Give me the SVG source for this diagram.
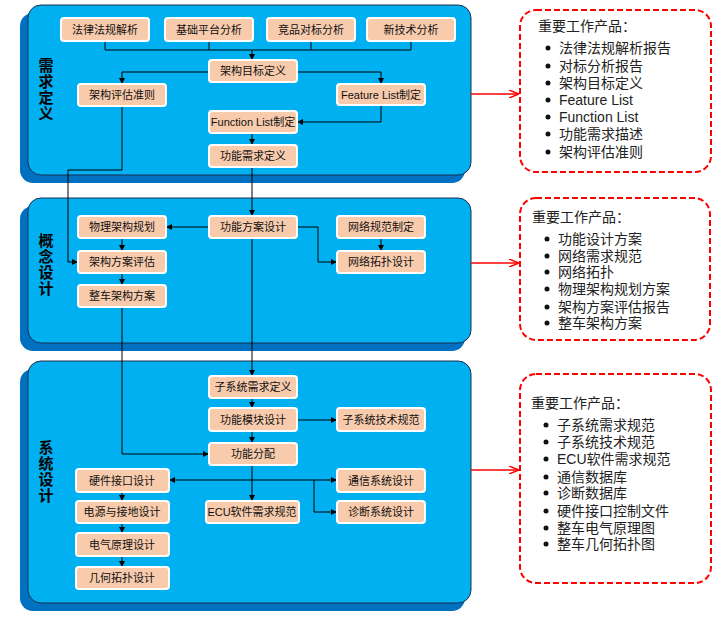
<svg xmlns="http://www.w3.org/2000/svg" width="726" height="617" viewBox="0 0 726 617">
<style>
.shadow{fill:#0070C0}
.panel{fill:#00B0F0;stroke:#1F3050;stroke-width:1}
.node rect{fill:#F8CBAD;stroke:#FFFFFF;stroke-width:2}
.node text{font-family:"Liberation Sans","Noto Sans CJK SC",sans-serif;font-size:11px;fill:#111;text-anchor:middle}
.stage{font-family:"Noto Sans CJK SC",sans-serif;font-size:15px;font-weight:bold;fill:#000;writing-mode:vertical-rl;letter-spacing:1px}
.conn{fill:none;stroke:#000;stroke-width:1}
.out{fill:#FFFFFF;stroke:#FF0000;stroke-width:2;stroke-dasharray:6,3}
.outt{font-family:"Liberation Sans","Noto Sans CJK SC",sans-serif;font-size:14px;fill:#222}
.red{fill:none;stroke:#FF0000;stroke-width:1.3}
</style>
<defs>
<marker id="ar" viewBox="0 0 6 6" refX="6" refY="3" markerWidth="6" markerHeight="6" orient="auto" markerUnits="userSpaceOnUse"><path d="M0,0 L6,3 L0,6 z" fill="#000"/></marker>
<marker id="rar" viewBox="0 0 10 8" refX="10" refY="4" markerWidth="10" markerHeight="8" orient="auto" markerUnits="userSpaceOnUse"><path d="M0,0 L10,4 L0,8" fill="none" stroke="#FF0000" stroke-width="1.5"/></marker>
</defs>

<g id="stage1">
<rect class="shadow" x="20" y="13" width="445" height="170" rx="13"/>
<rect class="panel" x="28" y="5" width="443" height="170" rx="13"/>
<text class="stage" x="46" y="58">需求定义</text>
</g>
<g id="stage2">
<rect class="shadow" x="20" y="206" width="445" height="145" rx="13"/>
<rect class="panel" x="28" y="198" width="443" height="145" rx="13"/>
<text class="stage" x="46" y="233">概念设计</text>
</g>
<g id="stage3">
<rect class="shadow" x="20" y="369" width="445" height="242" rx="13"/>
<rect class="panel" x="28" y="361" width="443" height="242" rx="13"/>
<text class="stage" x="46" y="440">系统设计</text>
</g>

<g id="connectors">
<path class="conn" d="M105,41 V50 H411 V41 M209,41 V50 M311,41 V50"/>
<path class="conn" marker-end="url(#ar)" d="M252,50 V60"/>
<path class="conn" marker-end="url(#ar)" d="M209,72 H122 V84"/>
<path class="conn" marker-end="url(#ar)" d="M297,72 H381 V84"/>
<path class="conn" marker-end="url(#ar)" d="M381,105 V122 H297"/>
<path class="conn" marker-end="url(#ar)" d="M252,133 V145"/>
<path class="conn" marker-end="url(#ar)" d="M252,167 V216"/>
<path class="conn" marker-end="url(#ar)" d="M122,106 V170 H68 V262 H78"/>
<path class="conn" marker-end="url(#ar)" d="M209,227 H166"/>
<path class="conn" marker-end="url(#ar)" d="M297,227 H318 V262 H337"/>
<path class="conn" marker-end="url(#ar)" d="M381,238 V251"/>
<path class="conn" marker-end="url(#ar)" d="M122,238 V251"/>
<path class="conn" marker-end="url(#ar)" d="M122,273 V285"/>
<path class="conn" marker-end="url(#ar)" d="M122,307 V454 H209"/>
<path class="conn" marker-end="url(#ar)" d="M252,238 V376"/>
<path class="conn" marker-end="url(#ar)" d="M252,398 V408"/>
<path class="conn" marker-end="url(#ar)" d="M297,420 H337"/>
<path class="conn" marker-end="url(#ar)" d="M252,431 V443"/>
<path class="conn" marker-end="url(#ar)" d="M252,465 V501"/>
<path class="conn" marker-end="url(#ar)" d="M314,480 H169"/>
<path class="conn" marker-end="url(#ar)" d="M314,480 H337"/>
<path class="conn" marker-end="url(#ar)" d="M314,480 V512 H337"/>
<path class="conn" marker-end="url(#ar)" d="M122,492 V501"/>
<path class="conn" marker-end="url(#ar)" d="M122,523 V533"/>
<path class="conn" marker-end="url(#ar)" d="M122,556 V567"/>
<path class="red" marker-end="url(#rar)" d="M471,94 H519"/>
<path class="red" marker-end="url(#rar)" d="M471,263 H519"/>
<path class="red" marker-end="url(#rar)" d="M471,470 H519"/>
</g>

<g id="n1" class="node"><rect x="61" y="18" width="88" height="23" rx="3"/><text x="105" y="34">法律法规解析</text></g>
<g id="n2" class="node"><rect x="165" y="18" width="88" height="23" rx="3"/><text x="209" y="34">基础平台分析</text></g>
<g id="n3" class="node"><rect x="267" y="18" width="88" height="23" rx="3"/><text x="311" y="34">竞品对标分析</text></g>
<g id="n4" class="node"><rect x="367" y="18" width="88" height="23" rx="3"/><text x="411" y="34">新技术分析</text></g>
<g id="n5" class="node"><rect x="209" y="60" width="88" height="22" rx="3"/><text x="253" y="75">架构目标定义</text></g>
<g id="n6" class="node"><rect x="78" y="84" width="88" height="22" rx="3"/><text x="122" y="99">架构评估准则</text></g>
<g id="n7" class="node"><rect x="337" y="84" width="88" height="21" rx="3"/><text x="381" y="99">Feature List制定</text></g>
<g id="n8" class="node"><rect x="209" y="111" width="88" height="22" rx="3"/><text x="253" y="126">Function List制定</text></g>
<g id="n9" class="node"><rect x="209" y="145" width="88" height="22" rx="3"/><text x="253" y="160">功能需求定义</text></g>

<g id="n10" class="node"><rect x="78" y="216" width="88" height="22" rx="3"/><text x="122" y="231">物理架构规划</text></g>
<g id="n11" class="node"><rect x="209" y="216" width="88" height="22" rx="3"/><text x="253" y="231">功能方案设计</text></g>
<g id="n12" class="node"><rect x="337" y="216" width="88" height="22" rx="3"/><text x="381" y="231">网络规范制定</text></g>
<g id="n13" class="node"><rect x="78" y="251" width="88" height="22" rx="3"/><text x="122" y="266">架构方案评估</text></g>
<g id="n14" class="node"><rect x="337" y="251" width="88" height="22" rx="3"/><text x="381" y="266">网络拓扑设计</text></g>
<g id="n15" class="node"><rect x="78" y="285" width="88" height="22" rx="3"/><text x="122" y="300">整车架构方案</text></g>

<g id="n16" class="node"><rect x="209" y="376" width="88" height="22" rx="3"/><text x="253" y="391">子系统需求定义</text></g>
<g id="n17" class="node"><rect x="209" y="408" width="88" height="23" rx="3"/><text x="253" y="424">功能模块设计</text></g>
<g id="n18" class="node"><rect x="337" y="408" width="88" height="23" rx="3"/><text x="381" y="424">子系统技术规范</text></g>
<g id="n19" class="node"><rect x="209" y="443" width="88" height="22" rx="3"/><text x="253" y="458">功能分配</text></g>
<g id="n20" class="node"><rect x="76" y="469" width="93" height="23" rx="3"/><text x="122" y="485">硬件接口设计</text></g>
<g id="n21" class="node"><rect x="337" y="469" width="88" height="23" rx="3"/><text x="381" y="485">通信系统设计</text></g>
<g id="n22" class="node"><rect x="206" y="501" width="93" height="22" rx="3"/><text x="252" y="516">ECU软件需求规范</text></g>
<g id="n23" class="node"><rect x="337" y="501" width="88" height="22" rx="3"/><text x="381" y="516">诊断系统设计</text></g>
<g id="n24" class="node"><rect x="76" y="501" width="93" height="22" rx="3"/><text x="122" y="516">电源与接地设计</text></g>
<g id="n25" class="node"><rect x="76" y="533" width="93" height="23" rx="3"/><text x="122" y="549">电气原理设计</text></g>
<g id="n26" class="node"><rect x="76" y="567" width="93" height="22" rx="3"/><text x="122" y="582">几何拓扑设计</text></g>

<g id="out1">
<rect class="out" x="520" y="10" width="191" height="162" rx="16"/>
<text class="outt" x="538" y="31">重要工作产品：</text>
<g class="outt">
<text x="559" y="53">法律法规解析报告</text>
<text x="559" y="71">对标分析报告</text>
<text x="559" y="88">架构目标定义</text>
<text x="559" y="105">Feature List</text>
<text x="559" y="122">Function List</text>
<text x="559" y="139">功能需求描述</text>
<text x="559" y="157">架构评估准则</text>
</g>
<g fill="#111"><circle cx="548" cy="48" r="2.5"/><circle cx="548" cy="66" r="2.5"/><circle cx="548" cy="83" r="2.5"/><circle cx="548" cy="100" r="2.5"/><circle cx="548" cy="117" r="2.5"/><circle cx="548" cy="134" r="2.5"/><circle cx="548" cy="152" r="2.5"/></g>
</g>

<g id="out2">
<rect class="out" x="520" y="198" width="190" height="142" rx="16"/>
<text class="outt" x="532" y="222">重要工作产品：</text>
<g class="outt">
<text x="558" y="244">功能设计方案</text>
<text x="558" y="261">网络需求规范</text>
<text x="558" y="277">网络拓扑</text>
<text x="558" y="294">物理架构规划方案</text>
<text x="558" y="312">架构方案评估报告</text>
<text x="558" y="328">整车架构方案</text>
</g>
<g fill="#111"><circle cx="547" cy="239" r="2.5"/><circle cx="547" cy="256" r="2.5"/><circle cx="547" cy="272" r="2.5"/><circle cx="547" cy="289" r="2.5"/><circle cx="547" cy="307" r="2.5"/><circle cx="547" cy="323" r="2.5"/></g>
</g>

<g id="out3">
<rect class="out" x="520" y="374" width="191" height="209" rx="16"/>
<text class="outt" x="531" y="408">重要工作产品：</text>
<g class="outt">
<text x="557" y="430">子系统需求规范</text>
<text x="557" y="447">子系统技术规范</text>
<text x="557" y="464">ECU软件需求规范</text>
<text x="557" y="482">通信数据库</text>
<text x="557" y="498">诊断数据库</text>
<text x="557" y="516">硬件接口控制文件</text>
<text x="557" y="533">整车电气原理图</text>
<text x="557" y="549">整车几何拓扑图</text>
</g>
<g fill="#111"><circle cx="546" cy="425" r="2.5"/><circle cx="546" cy="442" r="2.5"/><circle cx="546" cy="459" r="2.5"/><circle cx="546" cy="477" r="2.5"/><circle cx="546" cy="493" r="2.5"/><circle cx="546" cy="511" r="2.5"/><circle cx="546" cy="528" r="2.5"/><circle cx="546" cy="544" r="2.5"/></g>
</g>
</svg>
